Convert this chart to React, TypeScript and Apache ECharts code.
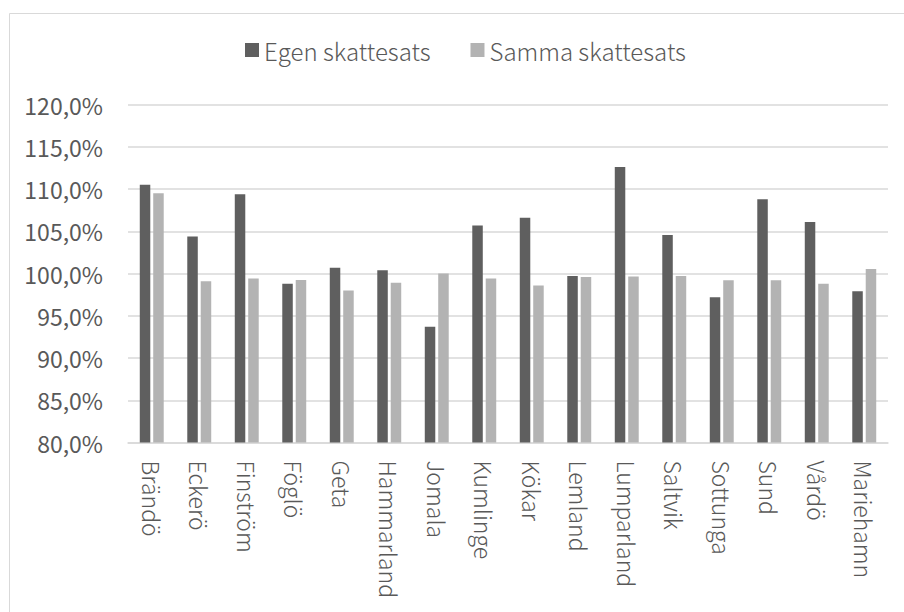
import React, { useEffect, useRef } from "react";
import * as echarts from "echarts";

const categories = [
  "Brändö", "Eckerö", "Finström", "Föglö", "Geta", "Hammarland", "Jomala", "Kumlinge",
  "Kökar", "Lemland", "Lumparland", "Saltvik", "Sottunga", "Sund", "Vårdö", "Mariehamn",
];
const egenSkattesats = [110.5, 104.4, 109.4, 98.8, 100.7, 100.4, 93.7, 105.7, 106.6, 99.7, 112.6, 104.55, 97.2, 108.8, 106.1, 97.9];
const sammaSkattesats = [109.5, 99.1, 99.4, 99.25, 98.0, 98.9, 100.0, 99.4, 98.6, 99.6, 99.65, 99.7, 99.2, 99.2, 98.8, 100.55];
const seriesNames = ["Egen skattesats", "Samma skattesats"];

const FONT = "'Noto Sans CJK JP', 'Noto Sans', sans-serif";
const TEXT = "#595959";
const W = 300;

export default function App() {
  const ref = useRef<HTMLDivElement>(null);
  useEffect(() => {
    if (!ref.current) return;
    const chart = echarts.init(ref.current, undefined, { renderer: "svg" });
    chart.setOption({
      animation: false,
      backgroundColor: "#ffffff",
      textStyle: { fontFamily: FONT, fontWeight: W },
      graphic: [
        {
          type: "rect",
          shape: { x: 9.5, y: 13.5, width: 910, height: 620 },
          style: { fill: "none", stroke: "#d9d9d9", lineWidth: 1 },
          silent: true,
        },
      ],
      legend: {
        top: 33,
        left: 240,
        itemWidth: 14,
        itemHeight: 14,
        itemGap: 40,
        icon: "rect",
        textStyle: { color: TEXT, fontSize: 24, fontFamily: FONT, fontWeight: W },
        data: seriesNames,
      },
      grid: { left: 128, right: 16, top: 104.6, bottom: 169.5 },
      xAxis: {
        type: "category",
        data: categories,
        axisLine: { show: true, lineStyle: { color: "#d9d9d9", width: 1.5 } },
        axisTick: { show: false },
        axisLabel: {
          rotate: -90,
          margin: 18,
          color: TEXT,
          fontSize: 23,
          fontFamily: FONT,
          fontWeight: W,
          interval: 0,
        },
      },
      yAxis: {
        type: "value",
        min: 80,
        max: 120,
        interval: 5,
        axisLine: { show: false },
        axisTick: { show: false },
        splitLine: { lineStyle: { color: "#d9d9d9", width: 1.5 } },
        axisLabel: {
          margin: 25,
          color: TEXT,
          fontSize: 23,
          fontFamily: FONT,
          fontWeight: 400,
          formatter: (v: number) => v.toFixed(1).replace(".", ",") + "%",
        },
      },
      series: [
        {
          name: seriesNames[0],
          type: "bar",
          data: egenSkattesats,
          barWidth: 10.5,
          barGap: "28%",
          itemStyle: { color: "#5f5f5f" },
        },
        {
          name: seriesNames[1],
          type: "bar",
          data: sammaSkattesats,
          barWidth: 10.5,
          itemStyle: { color: "#b3b3b3" },
        },
      ],
    });
    return () => chart.dispose();
  }, []);
  return (
    <div
      ref={ref}
      style={{ position: "absolute", left: 0, top: 0, width: 904, height: 612 }}
    />
  );
}
